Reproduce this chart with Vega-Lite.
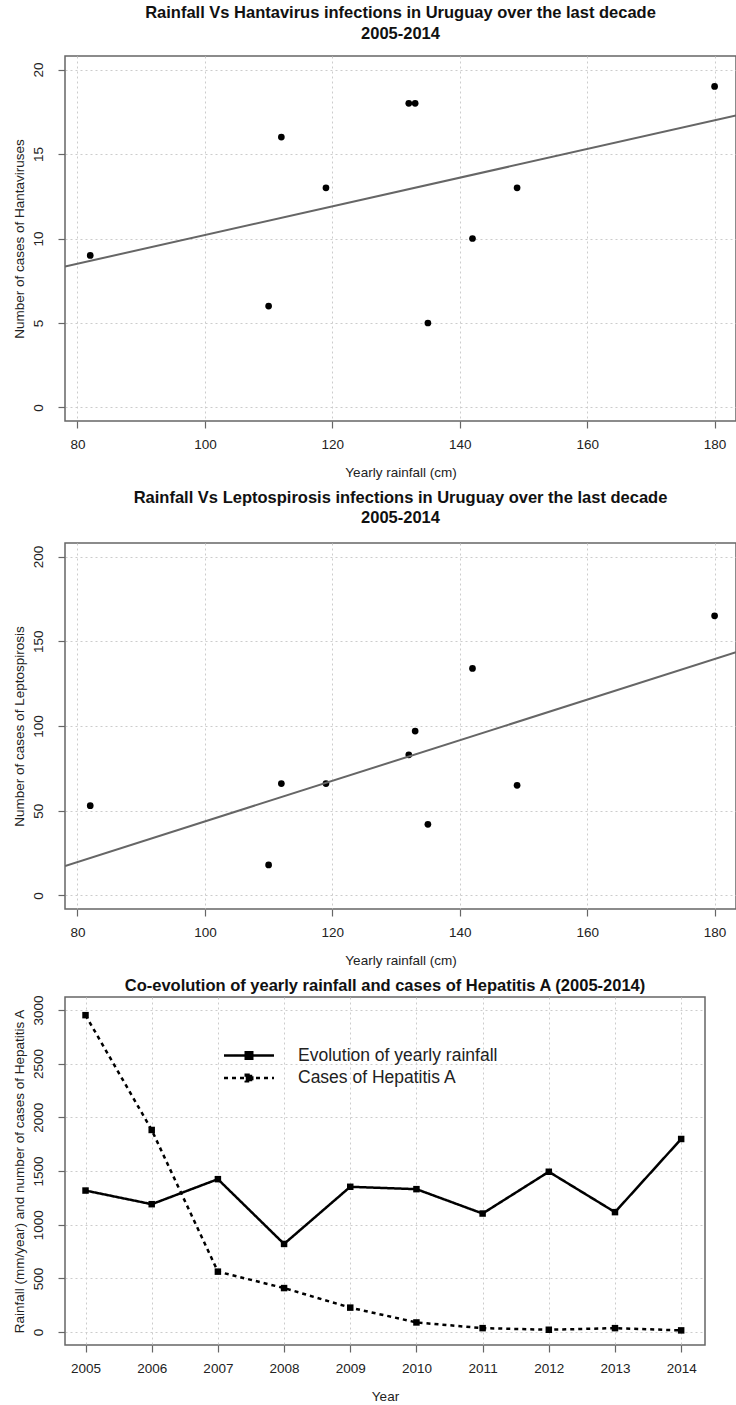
{
  "$schema": "https://vega.github.io/schema/vega-lite/v6.json",
  "autosize": {"type": "pad"},
  "padding": {"left": 11, "top": 4, "right": 0, "bottom": 0},
  "spacing": 9,
  "background": "white",
  "datasets": {
    "hanta": [
      {"rain": 82, "cases": 9}, {"rain": 110, "cases": 6}, {"rain": 112, "cases": 16},
      {"rain": 119, "cases": 13}, {"rain": 132, "cases": 18}, {"rain": 133, "cases": 18},
      {"rain": 135, "cases": 5}, {"rain": 142, "cases": 10}, {"rain": 149, "cases": 13},
      {"rain": 180, "cases": 19}
    ],
    "lepto": [
      {"rain": 82, "cases": 53}, {"rain": 110, "cases": 18}, {"rain": 112, "cases": 66},
      {"rain": 119, "cases": 66}, {"rain": 132, "cases": 83}, {"rain": 133, "cases": 97},
      {"rain": 135, "cases": 42}, {"rain": 142, "cases": 134}, {"rain": 149, "cases": 65},
      {"rain": 180, "cases": 165}
    ],
    "hep": [
      {"year": 2005, "series": "Evolution of yearly rainfall", "value": 1318},
      {"year": 2006, "series": "Evolution of yearly rainfall", "value": 1191},
      {"year": 2007, "series": "Evolution of yearly rainfall", "value": 1424},
      {"year": 2008, "series": "Evolution of yearly rainfall", "value": 821},
      {"year": 2009, "series": "Evolution of yearly rainfall", "value": 1353},
      {"year": 2010, "series": "Evolution of yearly rainfall", "value": 1331},
      {"year": 2011, "series": "Evolution of yearly rainfall", "value": 1104},
      {"year": 2012, "series": "Evolution of yearly rainfall", "value": 1493},
      {"year": 2013, "series": "Evolution of yearly rainfall", "value": 1117},
      {"year": 2014, "series": "Evolution of yearly rainfall", "value": 1798},
      {"year": 2005, "series": "Cases of Hepatitis A", "value": 2951},
      {"year": 2006, "series": "Cases of Hepatitis A", "value": 1882},
      {"year": 2007, "series": "Cases of Hepatitis A", "value": 563},
      {"year": 2008, "series": "Cases of Hepatitis A", "value": 410},
      {"year": 2009, "series": "Cases of Hepatitis A", "value": 228},
      {"year": 2010, "series": "Cases of Hepatitis A", "value": 90},
      {"year": 2011, "series": "Cases of Hepatitis A", "value": 37},
      {"year": 2012, "series": "Cases of Hepatitis A", "value": 22},
      {"year": 2013, "series": "Cases of Hepatitis A", "value": 37},
      {"year": 2014, "series": "Cases of Hepatitis A", "value": 16}
    ]
  },
  "config": {
    "font": "Liberation Sans",
    "view": {"stroke": "#666666", "strokeWidth": 1.5},
    "axis": {
      "domain": false,
      "tickColor": "#666666",
      "tickSize": 7,
      "tickWidth": 1.2,
      "labelFont": "Liberation Sans",
      "labelFontSize": 13.5,
      "labelColor": "#222222",
      "titleFont": "Liberation Sans",
      "titleFontSize": 13.5,
      "titleFontWeight": "normal",
      "titleColor": "#222222",
      "grid": true,
      "gridColor": "#cccccc",
      "gridDash": [2, 3],
      "gridWidth": 1
    },
    "axisX": {"labelPadding": 9, "labelBaseline": "top", "titleBaseline": "middle", "titleAlign": "center", "labelFlush": false},
    "axisY": {"labelAngle": 270, "labelAlign": "center", "labelBaseline": "middle", "labelPadding": 19.5, "titleAngle": 270, "titleBaseline": "middle", "titleAlign": "center", "labelFlush": false, "format": "d"},
    "title": {"font": "Liberation Sans", "fontSize": 16.5, "fontWeight": "bold", "color": "#111111", "baseline": "bottom", "lineHeight": 20.5, "frame": "group", "anchor": "middle"}
  },
  "vconcat": [
    {
      "width": 671,
      "height": 365,
      "title": {"text": ["Rainfall Vs Hantavirus infections in Uruguay over the last decade", "2005-2014"], "offset": 14},
      "data": {"name": "hanta"},
      "layer": [
        {
          "mark": {"type": "point", "filled": true, "size": 45, "color": "black", "opacity": 1},
          "encoding": {
            "x": {"field": "rain", "type": "quantitative", "scale": {"domain": [78.04, 183.36], "nice": false, "zero": false},
              "axis": {"values": [80, 100, 120, 140, 160, 180], "title": "Yearly rainfall (cm)", "titleX": 335.5, "titleY": 51}},
            "y": {"field": "cases", "type": "quantitative", "scale": {"domain": [-0.8, 20.8], "nice": false, "zero": false},
              "axis": {"values": [0, 5, 10, 15, 20], "title": "Number of cases of Hantaviruses", "titleX": -46, "titleY": 182.5}}
          }
        },
        {
          "transform": [{"regression": "cases", "on": "rain", "extent": [78.04, 183.36]}],
          "mark": {"type": "line", "color": "#666666", "strokeWidth": 2, "clip": true},
          "encoding": {
            "x": {"field": "rain", "type": "quantitative"},
            "y": {"field": "cases", "type": "quantitative"}
          }
        }
      ]
    },
    {
      "width": 671,
      "height": 366,
      "title": {"text": ["Rainfall Vs Leptospirosis infections in Uruguay over the last decade", "2005-2014"], "offset": 16.2},
      "data": {"name": "lepto"},
      "layer": [
        {
          "mark": {"type": "point", "filled": true, "size": 45, "color": "black", "opacity": 1},
          "encoding": {
            "x": {"field": "rain", "type": "quantitative", "scale": {"domain": [78.04, 183.36], "nice": false, "zero": false},
              "axis": {"values": [80, 100, 120, 140, 160, 180], "title": "Yearly rainfall (cm)", "titleX": 335.5, "titleY": 51}},
            "y": {"field": "cases", "type": "quantitative", "scale": {"domain": [-8, 208], "nice": false, "zero": false},
              "axis": {"values": [0, 50, 100, 150, 200], "title": "Number of cases of Leptospirosis", "titleX": -46, "titleY": 183}}
          }
        },
        {
          "transform": [{"regression": "cases", "on": "rain", "extent": [78.04, 183.36]}],
          "mark": {"type": "line", "color": "#666666", "strokeWidth": 2, "clip": true},
          "encoding": {
            "x": {"field": "rain", "type": "quantitative"},
            "y": {"field": "cases", "type": "quantitative"}
          }
        }
      ]
    },
    {
      "width": 640,
      "height": 348,
      "title": {"text": "Co-evolution of yearly rainfall and cases of Hepatitis A (2005-2014)", "offset": 0},
      "data": {"name": "hep"},
      "encoding": {
        "x": {"field": "year", "type": "quantitative", "scale": {"domain": [2004.69, 2014.36], "nice": false, "zero": false},
          "axis": {"values": [2005, 2006, 2007, 2008, 2009, 2010, 2011, 2012, 2013, 2014], "format": "d", "title": "Year", "titleX": 320, "titleY": 51}},
        "y": {"field": "value", "type": "quantitative", "scale": {"domain": [-120, 3120], "nice": false, "zero": false},
          "axis": {"values": [0, 500, 1000, 1500, 2000, 2500, 3000], "format": "d", "title": "Rainfall (mm/year) and number of cases of Hepatitis A", "titleX": -46, "titleY": 174}}
      },
      "layer": [
        {
          "mark": {"type": "line", "color": "black", "strokeWidth": 2.5},
          "encoding": {
            "strokeDash": {"field": "series", "type": "nominal",
              "scale": {"domain": ["Evolution of yearly rainfall", "Cases of Hepatitis A"], "range": [[1, 0], [4, 4]]},
              "legend": {
                "orient": "none", "legendX": 159, "legendY": 989.5, "title": null, "padding": 0,
                "symbolType": "M-2.94,0H2.94M-0.382,-0.382H0.382V0.382H-0.382Z",
                "symbolSize": 289, "symbolStrokeWidth": 2.5, "symbolStrokeColor": "black", "symbolFillColor": "black",
                "symbolOffset": 15,
                "labelFont": "Liberation Sans", "labelFontSize": 17.5, "labelColor": "#222222", "labelOffset": 39,
                "rowPadding": 3.5, "labelLimit": 400,
                "encode": {"symbols": {"update": {"fill": {"value": "black"}, "stroke": {"value": "black"}}}}
              }
            }
          }
        },
        {
          "mark": {"type": "point", "shape": "square", "filled": true, "size": 42, "color": "black", "opacity": 1},
          "encoding": {"detail": {"field": "series", "type": "nominal"}}
        }
      ]
    }
  ]
}
